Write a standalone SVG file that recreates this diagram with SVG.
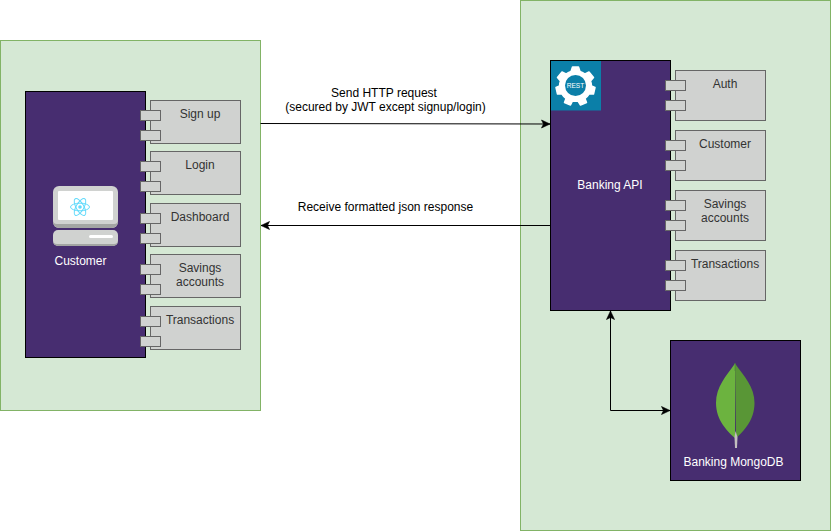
<svg xmlns="http://www.w3.org/2000/svg" width="831" height="531" viewBox="0 0 831 531">
<style>
text{font-family:"Liberation Sans",Arial,sans-serif;font-size:12px;text-anchor:middle}
.zone{fill:#d5e8d4;stroke:#82b366}
.box{fill:#472d70;stroke:#000}
.comp{fill:#d0d2d0;stroke:#666}
.dark{fill:#333}
.light{fill:#fff}
.lab{fill:#000}
.conn{fill:none;stroke:#000}
</style>
<defs>
<marker id="arrow" markerUnits="userSpaceOnUse" markerWidth="12" markerHeight="10" refX="10" refY="5" orient="auto-start-reverse">
<path d="M1.5 1L10 5L1.5 9L3.5 5Z" fill="#000" stroke="#000" stroke-width=".6"/>
</marker>
<g id="ports"><rect class="comp" x="-10" y="10" width="20" height="10"/><rect class="comp" x="-10" y="30" width="20" height="10"/></g>
</defs>
<rect id="zone-client" class="zone" x="0.5" y="40.5" width="260" height="370"/>
<rect id="zone-server" class="zone" x="520.5" y="0.5" width="310" height="530"/>
<g id="customer">
<rect class="box" x="25.5" y="91.5" width="120" height="266"/>
<rect x="53" y="186" width="65" height="42" rx="6" fill="#d0d2d0"/>
<path d="M53 222a6 6 0 0 0 6 6h53a6 6 0 0 0 6-6v-2a4 4 0 0 1-4 4H57a4 4 0 0 1-4-4z" fill="#a3a5a3"/>
<rect x="58" y="191" width="55" height="29" rx="1" fill="#fff"/>
<rect x="53" y="230" width="65" height="16" rx="5" fill="#d0d2d0"/>
<path d="M53 241a5 5 0 0 0 5 5h55a5 5 0 0 0 5-5v-1a4 4 0 0 1-4 4H57a4 4 0 0 1-4-4z" fill="#a3a5a3"/>
<rect x="89" y="235" width="24" height="3" rx="1.5" fill="#fff"/>
<g fill="none" stroke="#61dafb" stroke-width="1">
<ellipse cx="80" cy="207" rx="9.5" ry="3.8"/>
<ellipse cx="80" cy="207" rx="9.5" ry="3.8" transform="rotate(60 80 207)"/>
<ellipse cx="80" cy="207" rx="9.5" ry="3.8" transform="rotate(120 80 207)"/>
</g>
<circle cx="80" cy="207" r="1.8" fill="#61dafb"/>
<text class="light" x="80.5" y="265">Customer</text>
</g>
<g id="c-signup"><rect class="comp" x="150.5" y="100.5" width="90" height="43"/><use href="#ports" transform="translate(150.5 100.5)"/><text class="dark" x="200" y="118">Sign up</text></g>
<g id="c-login"><rect class="comp" x="150.5" y="151.5" width="90" height="43"/><use href="#ports" transform="translate(150.5 151.5)"/><text class="dark" x="200" y="169">Login</text></g>
<g id="c-dashboard"><rect class="comp" x="150.5" y="203.5" width="90" height="43"/><use href="#ports" transform="translate(150.5 203.5)"/><text class="dark" x="200" y="221">Dashboard</text></g>
<g id="c-savings"><rect class="comp" x="150.5" y="254.5" width="90" height="43"/><use href="#ports" transform="translate(150.5 254.5)"/><text class="dark" x="200" y="272">Savings</text><text class="dark" x="200" y="286">accounts</text></g>
<g id="c-transactions"><rect class="comp" x="150.5" y="306.5" width="90" height="43"/><use href="#ports" transform="translate(150.5 306.5)"/><text class="dark" x="200" y="324">Transactions</text></g>
<g id="banking-api">
<rect class="box" x="550.5" y="60.5" width="120" height="250"/>
<rect x="551" y="61" width="50" height="49.500" fill="#0b7fa8"/>
<g transform="translate(575.500 85.500)">
<path fill="#fff" stroke="#fff" stroke-width="1.500" stroke-linejoin="round" d="M-3-18.500L3-18.500L4.500-14Q7.500-13 9.500-11.500L13.500-13.500L18-8L15-4.500Q16-2 16 0.500L19.500 2L18 8.500L13.500 8.500Q12 11 9.500 13L11 17L5 19.500L2.500 15.500Q-0.500 16-3 15.500L-5 19.500L-11 17L-9.500 13Q-12 11-13.500 8.500L-18 8.500L-19.500 2L-16 0.500Q-16-2-15-4.500L-18-8L-13.500-13.500L-9.500-11.500Q-7.500-13-4.500-14Z"/>
<circle r="10.500" fill="#0b7fa8"/>
</g>
<text class="light" x="575.500" y="88" style="font-size:6.600px">REST</text>
<text class="light" x="610" y="189">Banking API</text>
</g>
<g id="a-auth"><rect class="comp" x="675.5" y="70.5" width="90" height="50"/><use href="#ports" transform="translate(675.5 70.5)"/><text class="dark" x="725" y="88">Auth</text></g>
<g id="a-customer"><rect class="comp" x="675.500" y="130.500" width="90" height="50"/><use href="#ports" transform="translate(675.5 130.5)"/><text class="dark" x="725" y="148">Customer</text></g>
<g id="a-savings"><rect class="comp" x="675.5" y="190.5" width="90" height="50"/><use href="#ports" transform="translate(675.5 190.5)"/><text class="dark" x="725" y="208">Savings</text><text class="dark" x="725" y="222">accounts</text></g>
<g id="a-transactions"><rect class="comp" x="675.5" y="250.5" width="90" height="50"/><use href="#ports" transform="translate(675.5 250.5)"/><text class="dark" x="725" y="268">Transactions</text></g>
<g id="mongodb">
<rect class="box" x="670.5" y="340.5" width="130" height="140"/>
<path d="M735 363.500C726 376 716 387 716 403C716 420 727 431 735 438Z" fill="#6cb33f"/>
<path d="M735 363.500C744 376 754.500 387 754.500 403C754.500 420 744 431 736 438Z" fill="#599636"/>
<path d="M735 363v8" stroke="#4f8a3a" stroke-width=".8"/>
<path d="M735.500 431L737.500 437L737 448H735L734.500 437Z" fill="#c2bfbf"/>
<text class="light" x="733.500" y="466">Banking MongoDB</text>
</g>
<g id="connectors">
<path class="conn" d="M260.500 123.500L550 124" marker-end="url(#arrow)"/>
<path class="conn" d="M550.500 225.500H261" marker-end="url(#arrow)"/>
<path class="conn" d="M610.500 311V410.500H670" marker-start="url(#arrow)" marker-end="url(#arrow)"/>
<text class="lab" x="384" y="97">Send HTTP request</text>
<text class="lab" x="385.500" y="111">(secured by JWT except signup/login)</text>
<text class="lab" x="385.500" y="211">Receive formatted json response</text>
</g>
</svg>
